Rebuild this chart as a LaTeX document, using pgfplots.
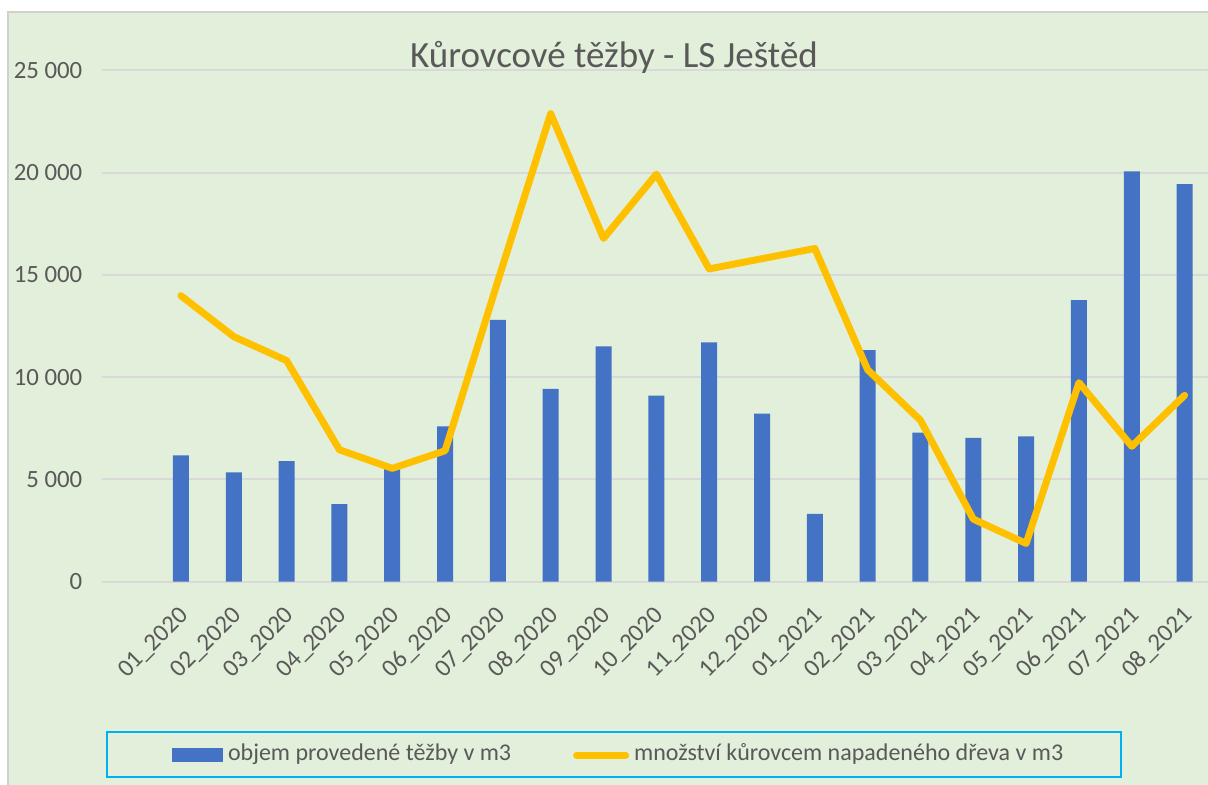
\documentclass[border=0pt]{standalone}
\usepackage{fontspec}
\setmainfont{Carlito}
\usepackage{pgfplots}
\pgfplotsset{compat=1.18}
\definecolor{bg}{HTML}{E2EFDA}
\definecolor{barblue}{HTML}{4472C4}
\definecolor{lineorange}{HTML}{FFC000}
\definecolor{gridgray}{HTML}{D9D9D9}
\definecolor{textgray}{HTML}{595959}
\definecolor{legendcyan}{HTML}{00B0F0}
\definecolor{bordergray}{HTML}{D0D0D0}
\pgfplotstableread{
x bars line
1 6180 13980
2 5350 11980
3 5890 10810
4 3790 6450
5 5600 5540
6 7590 6400
7 12800 14700
8 9430 22880
9 11500 16780
10 9100 19920
11 11700 15290
12 8220 15790
13 3310 16290
14 11320 10360
15 7290 7890
16 7030 3060
17 7110 1870
18 13760 9730
19 20060 6620
20 19430 9110
}\datatable
\begin{document}
\begin{tikzpicture}
\useasboundingbox (0,0) rectangle (604pt,392.5pt);
\clip (0,0) rectangle (604pt,392.5pt);
\fill[white] (0,0) rectangle (604pt,392.5pt);
\fill[bg] (4pt,0) rectangle (604pt,386.25pt);
\draw[bordergray, line width=1pt] (4pt,0) -- (4pt,386.25pt) -- (605pt,386.25pt);
\draw[legendcyan, line width=1pt] (53.35pt,3.85pt) rectangle (560.35pt,26.5pt);
\begin{axis}[
  at={(50.85pt,101.65pt)}, anchor=south west,
  scale only axis, width=554.65pt, height=255.7pt,
  xmin=-0.5, xmax=20.5, ymin=0, ymax=25000,
  scaled y ticks=false,
  axis line style={draw=none},
  major tick length=0pt,
  ymajorgrids, major grid style={draw=gridgray, line width=1pt},
  ytick={0,5000,10000,15000,20000,25000},
  yticklabels={0,5 000,10 000,15 000,20 000,25 000},
  xtick={1,...,20},
  xticklabels={01\_2020,02\_2020,03\_2020,04\_2020,05\_2020,06\_2020,07\_2020,08\_2020,09\_2020,10\_2020,11\_2020,12\_2020,01\_2021,02\_2021,03\_2021,04\_2021,05\_2021,06\_2021,07\_2021,08\_2021},
  tick label style={font=\fontsize{12.4}{14}\selectfont, text=textgray},
  yticklabel style={anchor=east, inner sep=0pt, xshift=-9.5pt},
  xticklabel style={xshift=2pt, yshift=-15pt, rotate=45, anchor=east, inner sep=0pt},
  legend columns=2,
  legend cell align=left,
  legend style={at={(0.465,-0.3389)}, anchor=center, draw=none, fill=none,
    inner xsep=0pt, inner ysep=0pt, font=\fontsize{12}{14}\selectfont, text=textgray,
    nodes={inner sep=0pt, text height=8.4pt, text depth=2.5pt},
    /tikz/every odd column/.append style={column sep=2.5pt},
    /tikz/every even column/.append style={column sep=31pt}},
]
\addplot[ybar, bar width=8pt, fill=barblue, draw=none,
  legend image code/.code={\fill[barblue] (0pt,-3.35pt) rectangle (25.6pt,3.35pt);}]
  table[x=x, y=bars] {\datatable};
\addlegendentry{objem provedené těžby v m3}
\addplot[sharp plot, lineorange, line width=3.5pt, line join=round, line cap=round, mark=none,
  legend image code/.code={\draw[lineorange, line width=3.5pt, line cap=round] (1.75pt,0pt) -- (26.25pt,0pt);}]
  table[x=x, y=line] {\datatable};
\addlegendentry{množství kůrovcem napadeného dřeva v m3}
\end{axis}
\node[font=\fontsize{18.5}{22}\selectfont, text=textgray, anchor=base] at (307pt,358.5pt) {Kůrovcové těžby - LS Ještěd};
\end{tikzpicture}
\end{document}
